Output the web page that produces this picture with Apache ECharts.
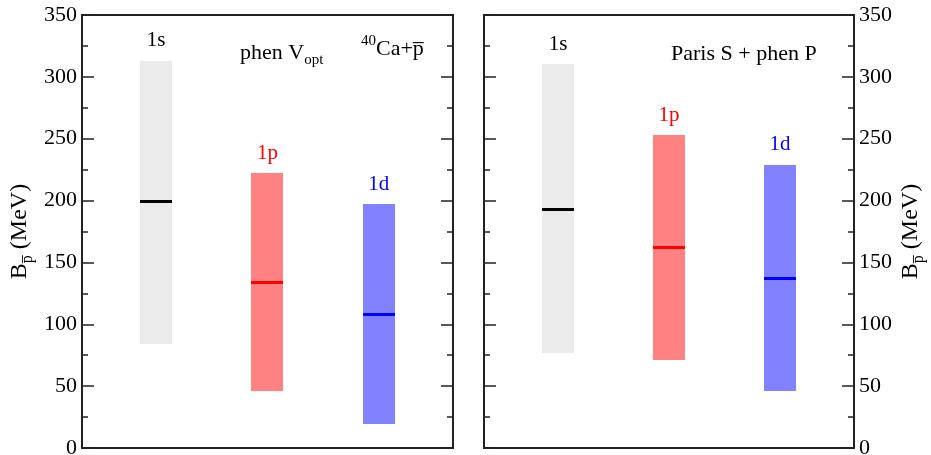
<!DOCTYPE html>
<html>
<head>
<meta charset="utf-8">
<script src="https://cdn.jsdelivr.net/npm/echarts@6/dist/echarts.min.js"></script>
<style>
  html, body { margin: 0; padding: 0; background: #fff; }
  #chart { width: 931px; height: 455px; }
</style>
</head>
<body>
<div id="chart"></div>
<script>
// states and where they sit along each panel (fraction of panel width)
const states = ['1s', '1p', '1d']
const statePos = [0.2, 0.5, 0.8]

// left panel: phen V_opt
const leftLow = [84, 46, 19]
const leftHigh = [313, 222, 197]
const leftCentral = [199, 134, 108]

// right panel: Paris S + phen P
const rightLow = [76, 71, 46]
const rightHigh = [310, 253, 229]
const rightCentral = [193, 162, 137]

const yTicks = [0, 50, 100, 150, 200, 250, 300, 350]

const SERIF = '"Liberation Serif", "Times New Roman", serif'
const lineColors = ['#000000', '#ff0000', '#0000ff']
const bandColors = ['#ebebeb', '#ff8282', '#8282ff']

function makeData(low, high, central) {
  return states.map((s, i) => [statePos[i], low[i], high[i], central[i]])
}

function renderBand(params, api) {
  const i = params.dataIndex
  const x = api.value(0)
  const pLo = api.coord([x, api.value(1)])
  const pHi = api.coord([x, api.value(2)])
  const pC = api.coord([x, api.value(3)])
  const w = api.size([0.0865, 0])[0]
  return {
    type: 'group',
    children: [
      {
        type: 'rect',
        shape: { x: Math.round(pHi[0] - w / 2), y: Math.round(pHi[1]), width: Math.round(w), height: Math.round(pLo[1] - pHi[1]) },
        style: { fill: bandColors[i] }
      },
      {
        type: 'rect',
        shape: { x: Math.round(pC[0] - w / 2), y: Math.round(pC[1] - 1.5), width: Math.round(w), height: 3 },
        style: { fill: lineColors[i] }
      },
      {
        type: 'text',
        x: pHi[0],
        y: pHi[1] - 20,
        style: {
          text: states[i],
          fill: lineColors[i],
          font: '21px ' + SERIF,
          align: 'center',
          verticalAlign: 'middle'
        }
      }
    ]
  }
}

const axisName = '{a|B}{s|p\u0305}{a| (MeV)}'
const nameRich = {
  a: { fontSize: 24, fontFamily: SERIF, color: '#000', lineHeight: 32, verticalAlign: 'middle' },
  s: { fontSize: 16, fontFamily: SERIF, color: '#000', lineHeight: 32, verticalAlign: 'bottom' }
}

function yAxis(grid, pos, labels) {
  return {
    type: 'value',
    gridIndex: grid,
    position: pos,
    min: 0,
    max: 350,
    interval: 50,
    name: labels ? axisName : '',
    nameLocation: 'middle',
    nameRotate: 90,
    nameGap: pos === 'left' ? 46 : 41,
    nameTextStyle: { rich: nameRich },
    axisLine: { show: true, lineStyle: { color: '#222', width: 2 } },
    axisTick: { show: true, inside: true, length: 12, lineStyle: { color: '#222', width: 1.5 } },
    minorTick: { show: true, splitNumber: 2, length: 6, lineStyle: { color: '#222', width: 1.5 } },
    splitLine: { show: false },
    minorSplitLine: { show: false },
    axisLabel: {
      show: labels,
      margin: 5,
      fontSize: 22,
      fontFamily: SERIF,
      color: '#000',
      formatter: v => (yTicks.indexOf(v) >= 0 ? String(v) : '')
    }
  }
}

function xAxis(grid) {
  return {
    type: 'value',
    gridIndex: grid,
    min: 0,
    max: 1,
    axisLine: { show: false },
    axisTick: { show: false },
    axisLabel: { show: false },
    splitLine: { show: false }
  }
}

const chart = echarts.init(document.getElementById('chart'))
chart.setOption({
  animation: false,
  backgroundColor: '#fff',
  grid: [
    { left: 82, right: 478, top: 15, bottom: 7, outerBoundsMode: 'none', containLabel: false, show: true, borderColor: '#222', borderWidth: 2 },
    { left: 484, right: 77, top: 15, bottom: 7, outerBoundsMode: 'none', containLabel: false, show: true, borderColor: '#222', borderWidth: 2 }
  ],
  xAxis: [xAxis(0), xAxis(1)],
  yAxis: [
    yAxis(0, 'left', true),
    yAxis(0, 'right', false),
    yAxis(1, 'left', false),
    yAxis(1, 'right', true)
  ],
  series: [
    {
      type: 'custom',
      xAxisIndex: 0,
      yAxisIndex: 0,
      renderItem: renderBand,
      data: makeData(leftLow, leftHigh, leftCentral)
    },
    {
      type: 'custom',
      xAxisIndex: 1,
      yAxisIndex: 3,
      renderItem: renderBand,
      data: makeData(rightLow, rightHigh, rightCentral)
    }
  ],
  graphic: [
    {
      type: 'text',
      left: 240,
      top: 42,
      style: {
        text: '{a|phen V}{s|opt}',
        rich: {
          a: { fontSize: 22, fontFamily: SERIF, fill: '#000', lineHeight: 30, verticalAlign: 'middle' },
          s: { fontSize: 15, fontFamily: SERIF, fill: '#000', lineHeight: 30, verticalAlign: 'bottom' }
        }
      }
    },
    {
      type: 'text',
      left: 361,
      top: 34,
      style: {
        text: '{s|40}{a|Ca+p\u0305}',
        rich: {
          a: { fontSize: 22, fontFamily: SERIF, fill: '#000', lineHeight: 30, verticalAlign: 'middle' },
          s: { fontSize: 15, fontFamily: SERIF, fill: '#000', lineHeight: 30, verticalAlign: 'top' }
        }
      }
    },
    {
      type: 'text',
      left: 671,
      top: 43,
      style: { text: 'Paris S + phen P', font: '22px ' + SERIF, fill: '#000' }
    }
  ]
})
</script>
</body>
</html>
